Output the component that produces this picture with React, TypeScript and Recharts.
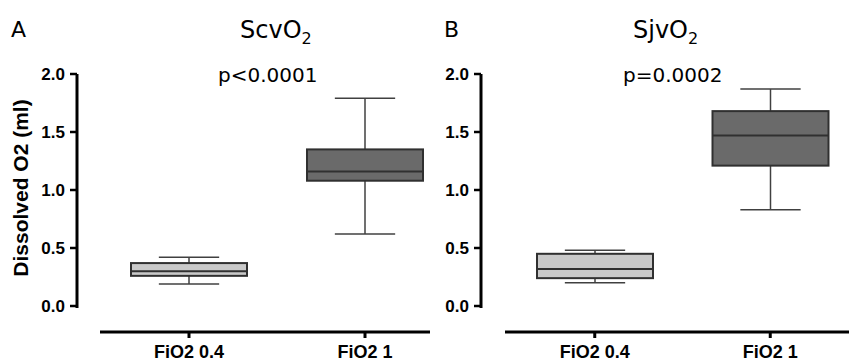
import React from "react";
import { ComposedChart, Bar, XAxis, YAxis, Cell } from "recharts";

const groups = ["FiO2 0.4", "FiO2 1"];
const yTicks = [0, 0.5, 1, 1.5, 2];

// ScvO2 box stats
const scvMin = [0.19, 0.62];
const scvQ1 = [0.26, 1.08];
const scvMedian = [0.3, 1.16];
const scvQ3 = [0.37, 1.35];
const scvMax = [0.42, 1.79];

// SjvO2 box stats
const sjvMin = [0.2, 0.83];
const sjvQ1 = [0.24, 1.21];
const sjvMedian = [0.32, 1.47];
const sjvQ3 = [0.45, 1.68];
const sjvMax = [0.48, 1.87];

const boxFills = ["#c9c9c9", "#6a6a6a"];

const buildRows = (
  mins: number[],
  q1s: number[],
  meds: number[],
  q3s: number[],
  maxs: number[]
) =>
  groups.map((g, i) => ({
    group: g,
    range: [mins[i], maxs[i]],
    q1: q1s[i],
    median: meds[i],
    q3: q3s[i],
  }));

const scvRows = buildRows(scvMin, scvQ1, scvMedian, scvQ3, scvMax);
const sjvRows = buildRows(sjvMin, sjvQ1, sjvMedian, sjvQ3, sjvMax);

// bar spans min..max, the rest is placed on the same linear scale
const BoxShape = (props: any) => {
  const { x, y, width, height, payload, index } = props;
  const fill = boxFills[index] ?? props.fill;
  const [lo, hi] = payload.range;
  const k = height / (hi - lo);
  const py = (v: number) => y + (hi - v) * k;
  const cx = x + width / 2;
  const cap = width * 0.26;
  const wStroke = "#404040";
  return (
    <g>
      <line x1={cx} x2={cx} y1={py(hi)} y2={py(payload.q3)} stroke={wStroke} strokeWidth={1.5} />
      <line x1={cx} x2={cx} y1={py(payload.q1)} y2={py(lo)} stroke={wStroke} strokeWidth={1.5} />
      <line x1={cx - cap} x2={cx + cap} y1={py(hi)} y2={py(hi)} stroke={wStroke} strokeWidth={1.5} />
      <line x1={cx - cap} x2={cx + cap} y1={py(lo)} y2={py(lo)} stroke={wStroke} strokeWidth={1.5} />
      <rect
        x={x}
        y={py(payload.q3)}
        width={width}
        height={py(payload.q1) - py(payload.q3)}
        fill={fill}
        stroke="#303030"
        strokeWidth={2}
      />
      <line x1={x} x2={x + width} y1={py(payload.median)} y2={py(payload.median)} stroke="#303030" strokeWidth={2} />
    </g>
  );
};

const axisFont = "'Liberation Sans', Arial, sans-serif";

const YTick = ({ x, y, payload }: any) => (
  <text
    x={x}
    y={y}
    dy={6}
    textAnchor="end"
    fontFamily={axisFont}
    fontWeight={700}
    fontSize={17}
    fill="#000"
  >
    {payload.value.toFixed(1)}
  </text>
);

const Panel = ({ rows, left, width, marginRight, padLeft, xDash }: any) => (
  <div style={{ position: "absolute", left, top: 0 }}>
    <ComposedChart
      width={width}
      height={361}
      data={rows}
      margin={{ top: 74, right: marginRight, bottom: 0, left: 0 }}
    >
      <XAxis
        dataKey="group"
        height={29}
        interval={0}
        padding={{ left: padLeft, right: 0 }}
        tickSize={6}
        tickMargin={7}
        axisLine={{ stroke: "#000", strokeWidth: 3, strokeDasharray: xDash }}
        tickLine={{ stroke: "#000", strokeWidth: 3 }}
        tick={{ fill: "#000", fontSize: 18, fontWeight: 700, fontFamily: axisFont }}
      />
      <YAxis
        type="number"
        domain={[0, 2]}
        ticks={yTicks}
        width={77}
        padding={{ top: 0, bottom: 26 }}
        tickSize={7}
        tickMargin={5}
        axisLine={{ stroke: "#000", strokeWidth: 3, strokeDasharray: "234 100" }}
        tickLine={{ stroke: "#000", strokeWidth: 2.5 }}
        tick={<YTick />}
      />
      <Bar dataKey="range" barSize={116} shape={<BoxShape />} isAnimationActive={false}>
        {rows.map((_: any, i: number) => (
          <Cell key={i} fill={boxFills[i]} />
        ))}
      </Bar>
    </ComposedChart>
  </div>
);

const titleFont = "'DejaVu Sans', sans-serif";

export default function App() {
  return (
    <div
      style={{
        position: "absolute",
        left: 0,
        top: 0,
        width: 849,
        height: 361,
        overflow: "hidden",
        background: "#fff",
      }}
    >
      <Panel rows={scvRows} left={0} width={470} marginRight={17} padLeft={24} xDash="0 23 330 100" />
      <Panel rows={sjvRows} left={404} width={454} marginRight={0} padLeft={26} xDash="0 24 400" />
      <svg width={849} height={361} style={{ position: "absolute", left: 0, top: 0, pointerEvents: "none" }}>
        <g fontFamily={titleFont} fill="#000">
          <text x={11} y={37} fontSize={22}>A</text>
          <text x={240} y={38} fontSize={24}>
            ScvO<tspan fontSize={16} dy={6}>2</tspan>
          </text>
          <text x={218} y={82} fontSize={20}>p&lt;0.0001</text>
          <text x={444} y={37} fontSize={22}>B</text>
          <text x={633} y={38} fontSize={24}>
            SjvO<tspan fontSize={16} dy={6}>2</tspan>
          </text>
          <text x={623} y={82} fontSize={20}>p=0.0002</text>
        </g>
        <text
          transform="translate(28,188) rotate(-90)"
          textAnchor="middle"
          fontFamily={axisFont}
          fontWeight={700}
          fontSize={21}
          fill="#000"
        >
          Dissolved O2 (ml)
        </text>
      </svg>
    </div>
  );
}
